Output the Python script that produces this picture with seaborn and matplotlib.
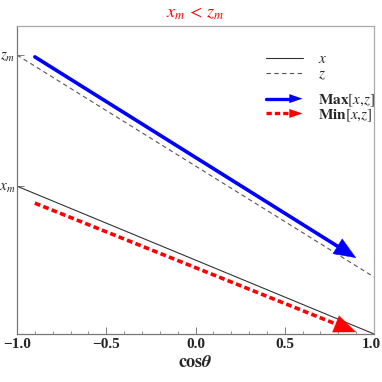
"""Max/min of two linear profiles x and z versus cos(theta)."""

import matplotlib

matplotlib.use("Agg")
import matplotlib.pyplot as plt
import matplotlib.transforms as mtransforms
import pandas as pd
import seaborn as sns
from matplotlib.legend_handler import HandlerPatch
from matplotlib.lines import Line2D
from matplotlib.patches import Polygon
from matplotlib.ticker import MultipleLocator

sns.set_theme(style="white")
plt.rcParams["font.family"] = ["Liberation Serif", "DejaVu Serif"]
plt.rcParams["mathtext.fontset"] = "stix"

# data
COS_LINE = [-1.0, 1.0]
X_VALUES = [0.48, 0.0]
Z_VALUES = [0.906, 0.185]
COS_ARROW = [-0.9, 0.9]
MAX_VALUES = [0.900, 0.247]
MIN_VALUES = [0.425, 0.006]
X_TICKS = [-1.0, -0.5, 0.0, 0.5, 1.0]
X_TICK_LABELS = ["\u22121.0", "\u22120.5", "0.0", "0.5", "1.0"]
Y_TICKS = [X_VALUES[0], Z_VALUES[0]]
Y_TICK_LABELS = [r"$x_m$", r"$z_m$"]

BLUE = "#0000ff"
RED = "#ff0000"
DOTS = (0, (1.6, 0.9))


class HandlerArrow(HandlerPatch):
    def __init__(self, dashed=False, **kw):
        super().__init__(**kw)
        self.dashed = dashed

    def create_artists(self, legend, orig_handle, xdescent, ydescent, width, height, fontsize, trans):
        color = orig_handle.get_color()
        y = height / 2 - ydescent
        head_len = width * 0.36
        x0 = -xdescent
        x1 = x0 + width
        line = Line2D([x0, x1 - head_len + 1], [y, y], color=color, lw=2.4,
                      linestyle=DOTS if self.dashed else "-", transform=trans)
        hw = height * 0.42
        head = Polygon([[x1 - head_len, y - hw], [x1, y], [x1 - head_len, y + hw]],
                       closed=True, facecolor=color, edgecolor="none", transform=trans)
        return [line, head]


def main() -> None:
    lines = pd.DataFrame({"cos": COS_LINE * 2,
                          "value": X_VALUES + Z_VALUES,
                          "series": ["x"] * 2 + ["z"] * 2})
    arrows = pd.DataFrame({"cos": COS_ARROW * 2,
                           "value": MAX_VALUES + MIN_VALUES,
                           "series": ["max"] * 2 + ["min"] * 2})

    fig = plt.figure(figsize=(3.82, 3.82), dpi=100)
    ax = fig.add_axes([0.0445, 0.1257, 0.9346, 0.806])

    sns.lineplot(data=lines[lines.series == "x"], x="cos", y="value", ax=ax,
                 color="#333333", lw=0.8, legend=False)
    sns.lineplot(data=lines[lines.series == "z"], x="cos", y="value", ax=ax,
                 color="#555555", lw=0.8, linestyle=(0, (4, 3)), legend=False)

    # arrows: body as a line, filled head as an annotation at the end point
    for name, color, style in [("max", BLUE, "-"), ("min", RED, DOTS)]:
        sub = arrows[arrows.series == name]
        cx = sub["cos"].tolist()
        cy = sub["value"].tolist()
        frac = 0.04
        bx = cx[1] - frac * (cx[1] - cx[0])
        by = cy[1] - frac * (cy[1] - cy[0])
        sns.lineplot(x=[cx[0], bx], y=[cy[0], by], ax=ax, color=color, lw=2.6,
                     linestyle=style, legend=False)
        ax.annotate("", xy=(cx[1], cy[1]), xytext=(bx, by),
                    arrowprops=dict(arrowstyle="-|>,head_length=1.1,head_width=0.45",
                                    mutation_scale=14, color=color, lw=0.3,
                                    shrinkA=0, shrinkB=0))

    ax.set_xlim(-1, 1)
    ax.set_ylim(0, 1)
    ax.set_xticks(X_TICKS)
    ax.set_xticklabels(X_TICK_LABELS, fontweight="bold", fontsize=11)
    ax.xaxis.set_minor_locator(MultipleLocator(0.1))
    ax.set_yticks(Y_TICKS)
    ax.set_yticklabels(Y_TICK_LABELS, fontsize=11)
    ax.tick_params(axis="both", which="major", direction="in", length=5, width=0.6,
                   color="#666666", pad=3, bottom=True, left=True)
    ax.tick_params(axis="x", which="minor", direction="in", length=2.5, width=0.5,
                   color="#666666", bottom=True)
    ax.tick_params(axis="y", pad=1)
    # nudge the last tick label so it stays inside the canvas
    last = ax.get_xticklabels()[-1]
    last.set_transform(last.get_transform()
                       + mtransforms.ScaledTranslation(-2 / 72, 0, fig.dpi_scale_trans))
    ax.set_xlabel(r"$\mathbf{cos}\boldsymbol{\theta}$", fontsize=13, labelpad=2)
    ax.set_ylabel("")
    ax.set_title(r"$x_m\,<\,z_m$", color=RED, fontsize=13, pad=6)

    for side in ["left", "bottom"]:
        ax.spines[side].set_color("#777777")
        ax.spines[side].set_linewidth(0.9)
    for side in ["top", "right"]:
        ax.spines[side].set_color("#aaaaaa")
        ax.spines[side].set_linewidth(0.9)

    legend_kw = dict(loc="upper left", frameon=False, fontsize=11, handlelength=2.4,
                     handletextpad=1.0, borderaxespad=0.0, borderpad=0.0)
    line_handles = [Line2D([], [], color="#333333", lw=0.8),
                    Line2D([], [], color="#555555", lw=0.8, linestyle=(0, (4, 3)))]
    leg1 = ax.legend(line_handles, [r"$x$", r"$z$"], bbox_to_anchor=(0.697, 0.915),
                     labelspacing=0.1, **legend_kw)
    ax.add_artist(leg1)

    arrow_handles = [Line2D([], [], color=BLUE), Line2D([], [], color=RED)]
    ax.legend(arrow_handles, [r"$\mathbf{Max}[x{,}z]$", r"$\mathbf{Min}[x{,}z]$"],
              bbox_to_anchor=(0.697, 0.785), labelspacing=-0.1,
              handler_map={arrow_handles[0]: HandlerArrow(dashed=False),
                           arrow_handles[1]: HandlerArrow(dashed=True)},
              **legend_kw)

    fig.savefig("out.png", dpi=100)
    plt.close(fig)


if __name__ == "__main__":
    main()
